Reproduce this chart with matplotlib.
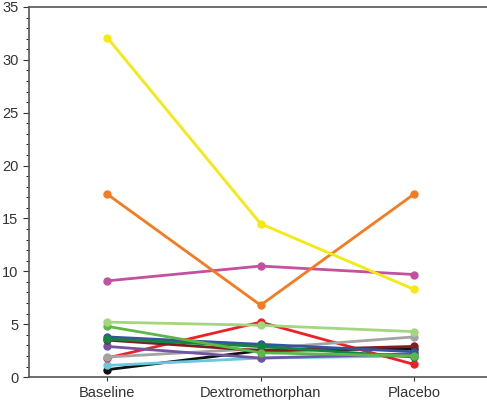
import matplotlib
matplotlib.use("Agg")
import matplotlib.pyplot as plt
from matplotlib.ticker import MultipleLocator

plt.rcParams['font.family'] = ['Liberation Sans', 'DejaVu Sans']

conditions = ["Baseline", "Dextromethorphan", "Placebo"]

yellow = [32.1, 14.5, 8.3]
orange = [17.3, 6.8, 17.3]
magenta = [9.1, 10.5, 9.7]
light_green = [5.2, 4.9, 4.3]
green = [4.8, 2.3, 2.0]
blue = [3.8, 3.1, 2.4]
dark_green = [3.6, 2.9, 1.9]
dark_red = [3.5, 2.5, 2.9]
purple = [2.9, 1.8, 2.2]
gray = [1.9, 2.7, 3.8]
red = [1.8, 5.2, 1.2]
cyan = [1.1, 1.8, 2.0]
black = [0.7, 2.5, 2.7]

# drawn in this order, later series on top
series = [
    (black, "#111111"),
    (cyan, "#68c8e0"),
    (red, "#ec2027"),
    (gray, "#a3a3a3"),
    (purple, "#7354a3"),
    (dark_red, "#851b1e"),
    (blue, "#3652a4"),
    (dark_green, "#128543"),
    (green, "#5db749"),
    (light_green, "#a3d67f"),
    (magenta, "#c2519e"),
    (orange, "#f47b20"),
    (yellow, "#f5e90f"),
]

fig = plt.figure(figsize=(4.87, 4.09), dpi=100)
ax = fig.add_axes([0.0595, 0.078, 0.9405, 0.905])

x = list(range(len(conditions)))
for vals, col in series:
    ax.plot(x, vals, color=col, lw=2, marker="o", ms=5, mec=col, mfc=col)

ax.set_xlim(-0.51, 2.476)
ax.set_ylim(0, 35)
ax.set_xticks(x)
ax.set_xticklabels(conditions)
ax.yaxis.set_major_locator(MultipleLocator(5))
ax.yaxis.set_minor_locator(MultipleLocator(1))
ax.tick_params(axis="both", labelsize=10.5, colors="#333333", direction="out")
ax.tick_params(axis="y", which="major", length=4)
ax.tick_params(axis="y", which="minor", length=2)
ax.tick_params(axis="x", length=3)
for s in ["left", "bottom", "top"]:
    ax.spines[s].set_color("#555555")
    ax.spines[s].set_linewidth(1.2)
ax.spines["right"].set_visible(False)

fig.savefig("out.png", dpi=100)
